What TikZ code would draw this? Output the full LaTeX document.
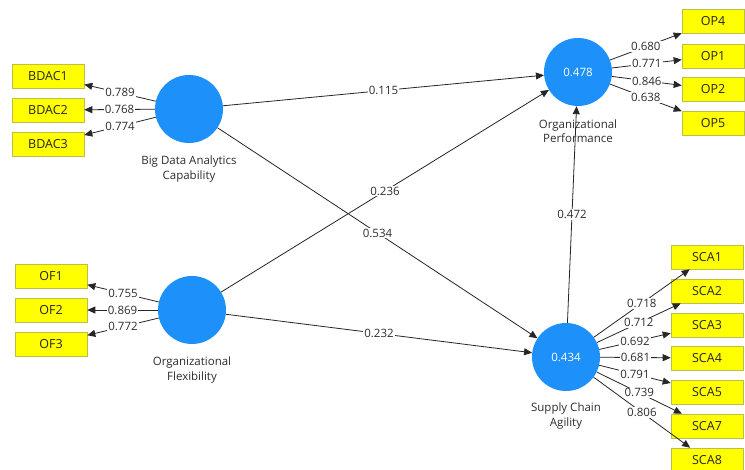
\documentclass[tikz,border=0pt]{standalone}
\usepackage{fontspec}
\setmainfont{Open Sans}
\usetikzlibrary{arrows.meta}
\definecolor{lvblue}{RGB}{30,144,250}
\definecolor{mvyellow}{RGB}{255,255,0}
\definecolor{mvborder}{RGB}{190,190,70}
\definecolor{txtgray}{RGB}{45,45,45}
\begin{document}
\begin{tikzpicture}[x=1pt,y=-1pt,
 lv/.style={circle, fill=lvblue, minimum size=68pt, inner sep=0pt, text=white, font=\fontsize{11.5}{13}\selectfont},
 mv/.style={rectangle, fill=mvyellow, draw=mvborder, line width=0.6pt, minimum width=72pt, minimum height=24pt, inner sep=0pt, font=\fontsize{12.5}{14}\selectfont, text=black!85},
 conn/.style={draw=black!85, line width=0.8pt, -{Triangle[length=8pt,width=7pt]}},
 wt/.style={fill=white, inner sep=1pt, font=\fontsize{11.5}{13}\selectfont, text=txtgray},
 lvname/.style={align=center, font=\fontsize{11.5}{14.5}\selectfont, text=txtgray}]
\useasboundingbox[fill=white] (0,0) rectangle (745,469);
\clip (0,0) rectangle (745,469);
% latent variables
\node[lv] (bdac) at (189,109) {};
\node[lv] (of) at (192,310) {};
\node[lv] (op) at (578,72) {0.478};
\node[lv] (sca) at (566,357) {0.434};
% indicators
\node[mv] (bdac1) at (48,76) {BDAC1};
\node[mv] (bdac2) at (48,110) {BDAC2};
\node[mv] (bdac3) at (48,144) {BDAC3};
\node[mv] (of1) at (51,276) {OF1};
\node[mv] (of2) at (51,310) {OF2};
\node[mv] (of3) at (51,344) {OF3};
\node[mv, minimum width=62pt] (op4) at (713,21.5) {OP4};
\node[mv, minimum width=62pt] (op1) at (713,56) {OP1};
\node[mv, minimum width=62pt] (op2) at (713,89.5) {OP2};
\node[mv, minimum width=62pt] (op5) at (713,123) {OP5};
\node[mv] (sca1) at (707,257) {SCA1};
\node[mv] (sca2) at (707,291) {SCA2};
\node[mv] (sca3) at (707,325) {SCA3};
\node[mv] (sca4) at (707,358) {SCA4};
\node[mv] (sca5) at (707,392) {SCA5};
\node[mv] (sca7) at (707,426) {SCA7};
\node[mv] (sca8) at (707,460) {SCA8};
% structural paths
\draw[conn] (bdac) -- node[wt]{0.115} (op);
\draw[conn] (of) -- node[wt]{0.236} (op);
\draw[conn] (bdac) -- node[wt]{0.534} (sca);
\draw[conn] (of) -- node[wt]{0.232} (sca);
\draw[conn] (sca) -- node[wt]{0.472} (op);
% loadings
\draw[conn] (bdac) -- node[wt]{0.789} (bdac1);
\draw[conn] (bdac) -- node[wt]{0.768} (bdac2);
\draw[conn] (bdac) -- node[wt]{0.774} (bdac3);
\draw[conn] (of) -- node[wt]{0.755} (of1);
\draw[conn] (of) -- node[wt]{0.869} (of2);
\draw[conn] (of) -- node[wt]{0.772} (of3);
\draw[conn] (op) -- node[wt]{0.680} (op4);
\draw[conn] (op) -- node[wt]{0.771} (op1);
\draw[conn] (op) -- node[wt]{0.846} (op2);
\draw[conn] (op) -- node[wt]{0.638} (op5);
\draw[conn] (sca) -- node[wt]{0.718} (sca1);
\draw[conn] (sca) -- node[wt]{0.712} (sca2);
\draw[conn] (sca) -- node[wt]{0.692} (sca3);
\draw[conn] (sca) -- node[wt]{0.681} (sca4);
\draw[conn] (sca) -- node[wt]{0.791} (sca5);
\draw[conn] (sca) -- node[wt]{0.739} (sca7);
\draw[conn] (sca) -- node[wt]{0.806} (sca8);
% names
\node[lvname] (bdacname) at (189,169) {Big Data Analytics\\Capability};
\node[lvname] (ofname) at (192,370) {Organizational\\Flexibility};
\node[lvname] (opname) at (578,131) {Organizational\\Performance};
\node[lvname] (scaname) at (566,416) {Supply Chain\\Agility};
\end{tikzpicture}
\end{document}
